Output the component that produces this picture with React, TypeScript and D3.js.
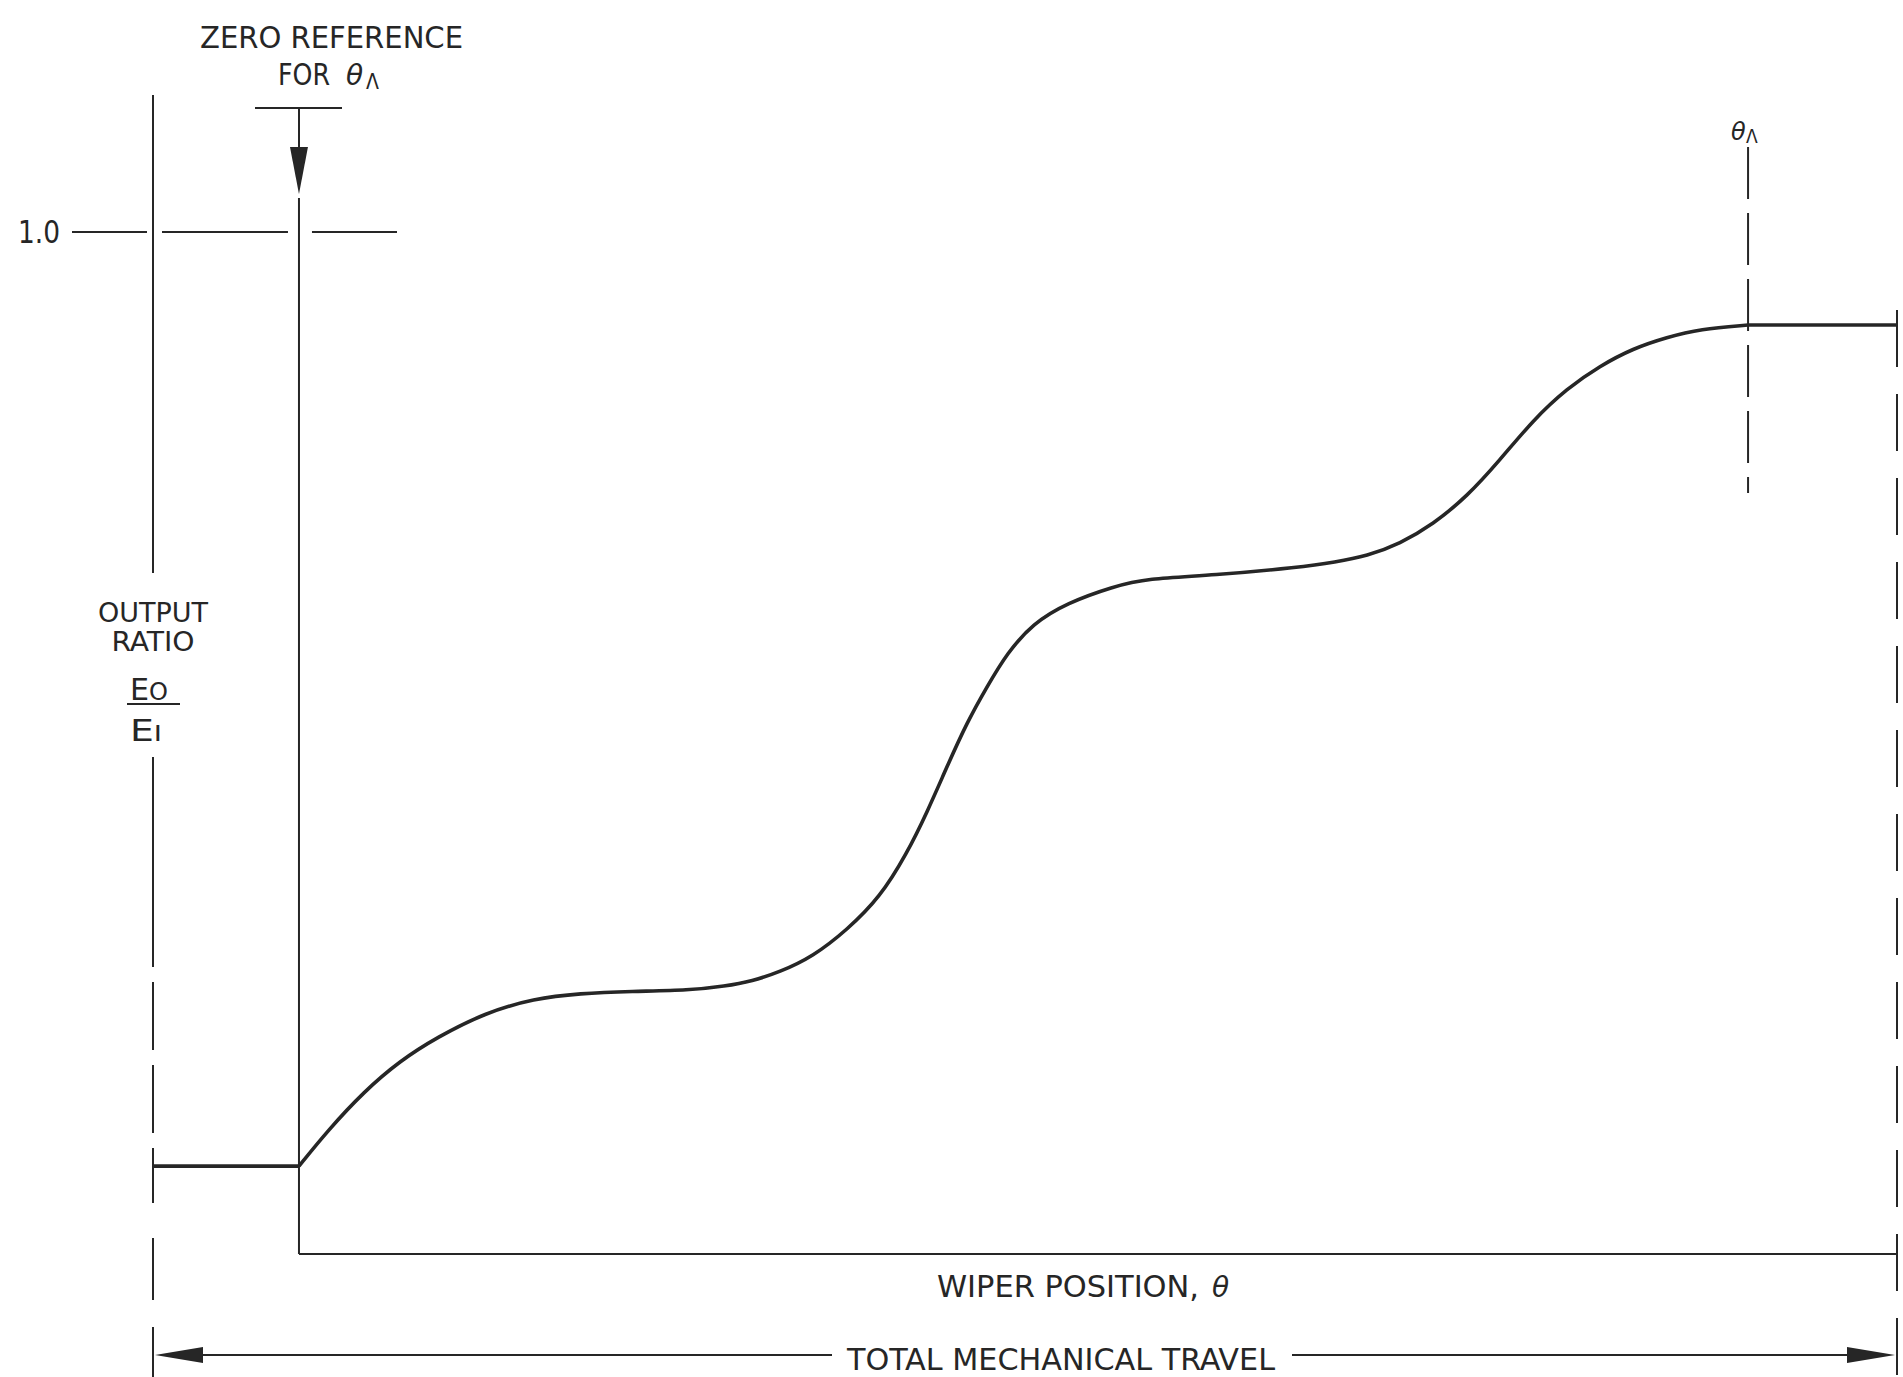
import React from "react";
import * as d3 from "d3";

// Wiper position θ as % of total mechanical travel, output ratio Eo/Ei
const curveTheta = [8.37, 10.03, 12.1, 14.16, 16.28, 19.04, 21.85, 24.48, 27.41, 30.79, 32.8, 34.35, 35.95, 37.84, 39.79, 41.69, 43.23, 44.38, 45.53, 46.67, 47.82, 48.97, 50.46, 52.41, 55.05, 56.99, 60.78, 65.77, 67.78, 69.61, 71.5, 73.39, 75.34, 77.24, 79.13, 81.08, 82.97, 84.86, 86.81, 88.7, 91.46];
const curveRatio = [0.086, 0.121, 0.159, 0.189, 0.212, 0.236, 0.25, 0.255, 0.257, 0.258, 0.262, 0.267, 0.276, 0.291, 0.317, 0.349, 0.392, 0.432, 0.477, 0.52, 0.555, 0.588, 0.617, 0.637, 0.653, 0.661, 0.664, 0.672, 0.677, 0.683, 0.695, 0.714, 0.741, 0.777, 0.816, 0.847, 0.869, 0.886, 0.897, 0.905, 0.909];
const startRatio = 0.086; // flat section before zero reference
const endRatio = 0.909; // flat section after θA
const zeroRefTheta = 8.37;
const thetaA = 91.46;
const yTickValue = 1.0;
const yTickLabel = "1.0";

const INK = "#262626";
const FONT = "'DejaVu Sans Condensed', 'Liberation Sans Narrow', 'Roboto Condensed', Arial, sans-serif";

export default function App() {
  const x = d3.scaleLinear().domain([0, 100]).range([153, 1897]);
  const y = d3.scaleLinear().domain([0, 1]).range([1254, 232]);

  const pts: [number, number][] = curveTheta.map((t, i) => [t, curveRatio[i]]);
  const line = d3
    .line<[number, number]>()
    .x((d) => x(d[0]))
    .y((d) => y(d[1]))
    .curve(d3.curveBasis);
  const curvePath = line(pts) || "";

  const x0 = x(0);
  const xZ = x(zeroRefTheta);
  const xA = x(thetaA);
  const x1 = x(100);
  const y1 = y(yTickValue);
  const yAxis = y(0);

  const arrowY = 1355;
  const leftDashes: [number, number][] = [
    [95, 573],
    [757, 967],
    [982, 1050],
    [1065, 1133],
    [1148, 1203],
    [1238, 1300],
    [1327, 1377],
  ];

  return (
    <svg
      width={1903}
      height={1377}
      style={{ position: "absolute", left: 0, top: 0, background: "#fff" }}
    >
      <rect x={0} y={0} width={1903} height={1377} fill="#fff" />
      <g fill={INK} fontFamily={FONT}>
        {/* Top annotation */}
        <text x={200} y={48} fontSize={31} textLength={263} lengthAdjust="spacingAndGlyphs">
          ZERO REFERENCE
        </text>
        <text x={278} y={85} fontSize={31} textLength={52} lengthAdjust="spacingAndGlyphs">
          FOR
        </text>
        <text x={346} y={85} fontSize={28} fontStyle="italic" fontFamily="'DejaVu Sans', sans-serif">
          θ
        </text>
        <text x={366} y={89} fontSize={21}>
          Λ
        </text>

        {/* Y tick label */}
        <text x={18} y={243} fontSize={32} textLength={42} lengthAdjust="spacingAndGlyphs">
          {yTickLabel}
        </text>

        {/* Y axis title */}
        <text x={153} y={622} fontSize={27} textAnchor="middle" textLength={110} lengthAdjust="spacingAndGlyphs">
          OUTPUT
        </text>
        <text x={153} y={651} fontSize={27} textAnchor="middle" textLength={83} lengthAdjust="spacingAndGlyphs">
          RATIO
        </text>
        <text x={130} y={700} fontSize={30} textLength={38} lengthAdjust="spacingAndGlyphs">
          E<tspan fontSize={24}>O</tspan>
        </text>
        <text x={130} y={741} fontSize={30} textLength={32} lengthAdjust="spacingAndGlyphs">
          E<tspan fontSize={22}>I</tspan>
        </text>

        {/* θA label */}
        <text x={1731} y={140} fontSize={24} fontStyle="italic" fontFamily="'DejaVu Sans', sans-serif">
          θ
        </text>
        <text x={1746} y={143} fontSize={19}>
          Λ
        </text>

        {/* X axis titles */}
        <text x={937} y={1297} fontSize={31} textLength={262} lengthAdjust="spacingAndGlyphs">
          WIPER POSITION,
        </text>
        <text x={1212} y={1297} fontSize={28} fontStyle="italic" fontFamily="'DejaVu Sans', sans-serif">
          θ
        </text>
        <text x={847} y={1370} fontSize={31} textLength={428} lengthAdjust="spacingAndGlyphs">
          TOTAL MECHANICAL TRAVEL
        </text>
      </g>

      <g stroke={INK} strokeWidth={2} fill="none">
        {/* 1.0 reference line with gaps */}
        <line x1={72} x2={x0 - 6} y1={y1} y2={y1} />
        <line x1={x0 + 9} x2={xZ - 11} y1={y1} y2={y1} />
        <line x1={xZ + 13} x2={397} y1={y1} y2={y1} />

        {/* left travel limit line */}
        {leftDashes.map((s, i) => (
          <line key={i} x1={x0} x2={x0} y1={s[0]} y2={s[1]} />
        ))}

        {/* right travel limit line */}
        <line x1={x1} x2={x1} y1={y(endRatio) - 15} y2={1377} strokeDasharray="57 27" />

        {/* zero reference marker */}
        <line x1={255} x2={342} y1={108} y2={108} />
        <line x1={xZ} x2={xZ} y1={108} y2={160} />
        <line x1={xZ} x2={xZ} y1={198} y2={yAxis} />

        {/* x axis */}
        <line x1={xZ} x2={x1} y1={yAxis} y2={yAxis} />

        {/* θA dashed line */}
        <line x1={xA} x2={xA} y1={147} y2={493} strokeDasharray="52 14" />

        {/* total mechanical travel arrow */}
        <line x1={x0 + 20} x2={832} y1={arrowY} y2={arrowY} />
        <line x1={1292} x2={x1 - 20} y1={arrowY} y2={arrowY} />

        {/* fraction bar */}
        <line x1={127} x2={180} y1={704} y2={704} />
      </g>

      <g fill={INK} stroke="none">
        <path d={`M${xZ},194 L${xZ - 9},147 L${xZ + 9},147 Z`} />
        <path d={`M${x0 + 2},${arrowY} L${x0 + 50},${arrowY - 8} L${x0 + 50},${arrowY + 8} Z`} />
        <path d={`M${x1 - 2},${arrowY} L${x1 - 50},${arrowY - 8} L${x1 - 50},${arrowY + 8} Z`} />
      </g>

      {/* Response curve */}
      <g stroke={INK} strokeWidth={3.6} fill="none" strokeLinejoin="round">
        <line x1={x0} x2={xZ} y1={y(startRatio)} y2={y(startRatio)} />
        <path d={curvePath} />
        <line x1={xA} x2={x1} y1={y(endRatio)} y2={y(endRatio)} />
      </g>
    </svg>
  );
}
